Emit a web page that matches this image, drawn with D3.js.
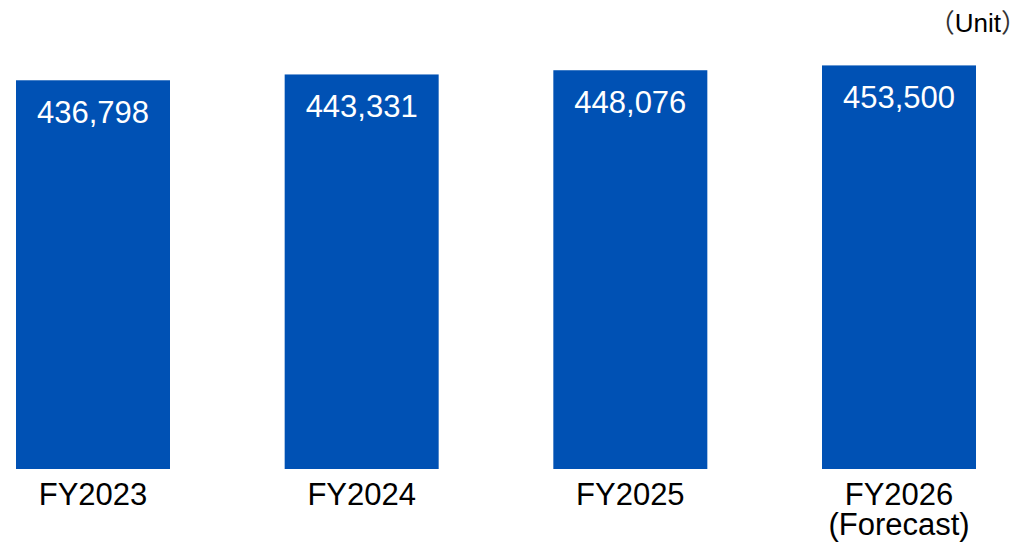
<!DOCTYPE html>
<html>
<head>
<meta charset="utf-8">
<script src="https://cdn.jsdelivr.net/npm/d3@7"></script>
<style>
  body { margin: 0; background: #fff; }
  text { font-family: "Liberation Sans", Arial, sans-serif; }
  .paren { font-family: "Noto Sans CJK JP", sans-serif; font-feature-settings: "halt" 1; fill: #333; }
</style>
</head>
<body>
<div id="chart"></div>
<script>
// Chart values
var categories = ["FY2023", "FY2024", "FY2025", "FY2026"];
var subLabels  = ["", "", "", "(Forecast)"];
var values     = [436798, 443331, 448076, 453500];

var width  = 1017;
var height = 547;
var baseline = 469;

var svg = d3.select("#chart").append("svg")
    .attr("width", width)
    .attr("height", height);

// Bands: first bar starts at 16, last ends at 976
var x = d3.scaleBand()
    .domain(categories)
    .range([16, 976])
    .paddingInner(0.4268)
    .paddingOuter(0);

var y = d3.scaleLinear()
    .domain([0, 527000])
    .range([baseline, 0]);

var fmt = d3.format(",");

svg.append("g")
    .selectAll("rect")
    .data(values)
    .enter()
    .append("rect")
    .attr("x", (d, i) => x(categories[i]))
    .attr("width", x.bandwidth())
    .attr("y", d => y(d))
    .attr("height", d => baseline - y(d))
    .attr("fill", "#0051b4");

// Value labels inside bars
svg.append("g")
    .selectAll("text")
    .data(values)
    .enter()
    .append("text")
    .attr("x", (d, i) => x(categories[i]) + x.bandwidth() / 2)
    .attr("y", d => y(d) + 43)
    .attr("text-anchor", "middle")
    .attr("font-size", "31px")
    .attr("fill", "#fff")
    .text(d => fmt(d));

// Category labels
var cat = svg.append("g")
    .selectAll("text")
    .data(categories)
    .enter()
    .append("text")
    .attr("x", d => x(d) + x.bandwidth() / 2)
    .attr("y", 505)
    .attr("text-anchor", "middle")
    .attr("font-size", "31px")
    .attr("fill", "#000");

cat.append("tspan").text(d => d);
cat.append("tspan")
    .attr("x", d => x(d) + x.bandwidth() / 2)
    .attr("dy", 30)
    .text((d, i) => subLabels[i]);

// Unit note
var unit = svg.append("text")
    .attr("x", 1014)
    .attr("y", 32)
    .attr("text-anchor", "end")
    .attr("font-size", "26px")
    .attr("fill", "#000");
unit.append("tspan").attr("class", "paren").text("（");
unit.append("tspan").text("Unit");
unit.append("tspan").attr("class", "paren").text("）");
</script>
</body>
</html>
